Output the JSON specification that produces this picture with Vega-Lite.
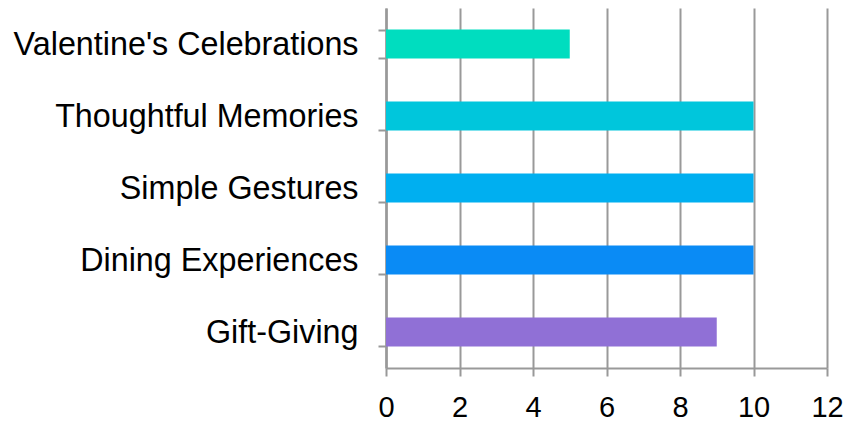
{
  "$schema": "https://vega.github.io/schema/vega-lite/v6.json",
  "width": 441,
  "height": 360,
  "autosize": {"type": "none"},
  "padding": {"left": 386, "top": 8, "right": 22, "bottom": 53},
  "background": "white",
  "data": {
    "values": [
      {"category": "Valentine's Celebrations", "value": 5, "color": "#00DDBF"},
      {"category": "Thoughtful Memories", "value": 10, "color": "#00C6DC"},
      {"category": "Simple Gestures", "value": 10, "color": "#00AFF0"},
      {"category": "Dining Experiences", "value": 10, "color": "#0A8BF5"},
      {"category": "Gift-Giving", "value": 9, "color": "#9070D6"}
    ]
  },
  "mark": {"type": "bar"},
  "encoding": {
    "y": {
      "field": "category",
      "type": "nominal",
      "sort": null,
      "scale": {"paddingInner": 0.6, "paddingOuter": 0.3},
      "axis": {
        "title": null,
        "tickBand": "extent",
        "grid": false,
        "domainColor": "#999999",
        "domainWidth": 2.5,
        "tickColor": "#999999",
        "tickWidth": 2,
        "tickSize": 8,
        "labelFont": "Liberation Sans",
        "labelFontSize": 32.3,
        "labelColor": "#000000",
        "labelPadding": 20,
        "labelLimit": 0
      }
    },
    "x": {
      "field": "value",
      "type": "quantitative",
      "scale": {"domain": [0, 12], "nice": false},
      "axis": {
        "title": null,
        "values": [0, 2, 4, 6, 8, 10, 12],
        "grid": true,
        "gridColor": "#999999",
        "gridWidth": 2,
        "domainColor": "#999999",
        "domainWidth": 2,
        "tickColor": "#999999",
        "tickWidth": 2,
        "tickSize": 8,
        "labelFont": "Liberation Sans",
        "labelFontSize": 29,
        "labelColor": "#000000",
        "labelPadding": 17,
        "labelFlush": false
      }
    },
    "color": {"field": "color", "type": "nominal", "scale": null, "legend": null}
  },
  "config": {"view": {"stroke": null}}
}
